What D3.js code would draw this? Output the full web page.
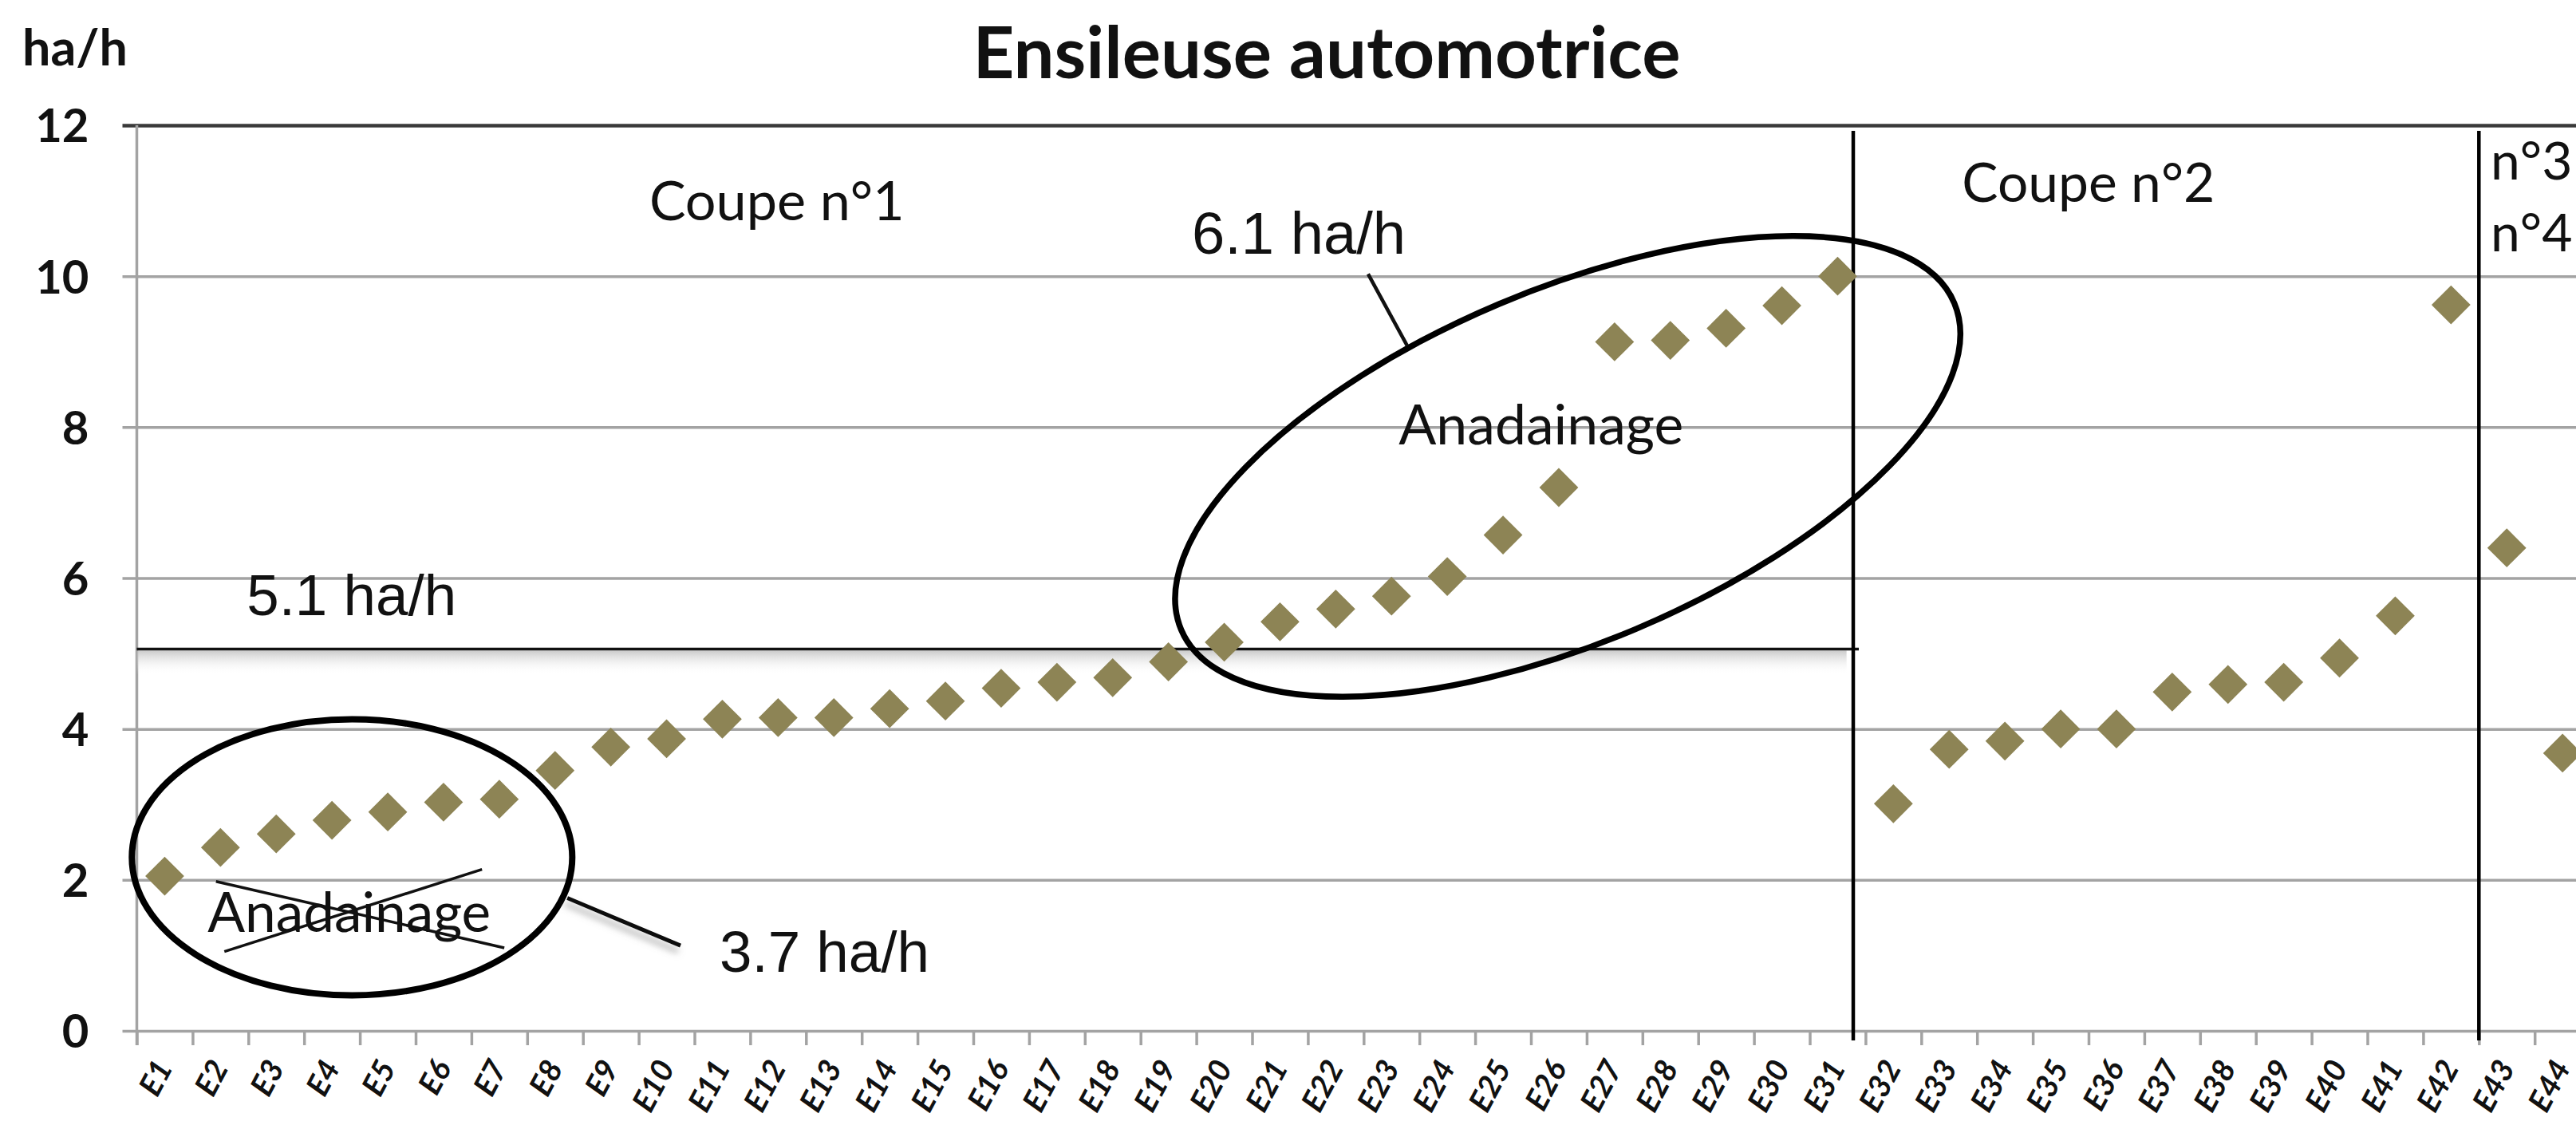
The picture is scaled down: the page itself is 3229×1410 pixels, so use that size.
<!DOCTYPE html>
<html>
<head>
<meta charset="utf-8">
<script src="https://cdn.jsdelivr.net/npm/d3@7"></script>
<style>
  html, body { margin: 0; padding: 0; background: #ffffff; overflow: hidden; }
  svg { display: block; }
</style>
</head>
<body>
<svg id="chart" width="3229" height="1410"></svg>
<script>
// ---------------- DATA ----------------
const categories = ["E1","E2","E3","E4","E5","E6","E7","E8","E9","E10",
  "E11","E12","E13","E14","E15","E16","E17","E18","E19","E20",
  "E21","E22","E23","E24","E25","E26","E27","E28","E29","E30",
  "E31","E32","E33","E34","E35","E36","E37","E38","E39","E40",
  "E41","E42","E43","E44"];
const values = [2.05, 2.43, 2.61, 2.79, 2.90, 3.03, 3.07, 3.45, 3.76, 3.87,
  4.13, 4.15, 4.15, 4.27, 4.37, 4.54, 4.62, 4.68, 4.89, 5.15,
  5.42, 5.59, 5.76, 6.02, 6.57, 7.20, 9.13, 9.15, 9.31, 9.61,
  10.0, 3.01, 3.73, 3.84, 4.00, 4.00, 4.49, 4.59, 4.62, 4.94,
  5.50, 9.62, 6.40, 3.68];
const yTicks = [0, 2, 4, 6, 8, 10, 12];
const chartTitle = "Ensileuse automotrice";
const yAxisTitle = "ha/h";
const sectionLabels = ["Coupe n°1", "Coupe n°2", "n°3", "n°4"];
const annotationTexts = ["5.1 ha/h", "6.1 ha/h", "3.7 ha/h", "Anadainage"];
const averageLevel = 5.06;

// ---------------- LAYOUT ----------------
const W = 3229, H = 1410;
const left = 171.5, band = 69.9;
const yBottom = 1292, yTop = 157;
const markerColor = "#8d8455";
const gridColor = "#a3a3a3";
const sansCal = "Lato, 'Open Sans', sans-serif";
const sansArial = "'Liberation Sans', Arial, sans-serif";

const svg = d3.select("#chart");
svg.append("rect").attr("width", W).attr("height", H).attr("fill", "#fff");

const defs = svg.append("defs");
const grad = defs.append("linearGradient").attr("id", "avgShadow")
  .attr("x1", 0).attr("y1", 0).attr("x2", 0).attr("y2", 1);
grad.append("stop").attr("offset", "0%").attr("stop-color", "#b9b9b9").attr("stop-opacity", 0.75);
grad.append("stop").attr("offset", "100%").attr("stop-color", "#ffffff").attr("stop-opacity", 0);
const shadow = defs.append("filter").attr("id", "dropShadow")
  .attr("x", "-20%").attr("y", "-20%").attr("width", "160%").attr("height", "180%");
shadow.append("feDropShadow").attr("dx", -3).attr("dy", 7).attr("stdDeviation", 4)
  .attr("flood-color", "#777").attr("flood-opacity", 0.6);

const x = d3.scaleBand().domain(categories)
  .range([left, left + band * categories.length]).padding(0);
const xb = d3.scaleLinear().domain([0, categories.length])
  .range([left, left + band * categories.length]);
const y = d3.scaleLinear().domain([0, 12]).range([yBottom, yTop]);

function fit(sel, target) {
  const w = sel.node().getComputedTextLength();
  const fs = parseFloat(sel.attr("font-size"));
  if (w > 0) sel.attr("font-size", (fs * target / w).toFixed(2));
  return sel;
}

// ---------------- GRID + Y AXIS ----------------
const gY = svg.append("g").attr("transform", `translate(${left - 18},0)`)
  .call(d3.axisLeft(y).tickValues(yTicks).tickSize(-(W - left + 18)).tickPadding(42)
    .tickFormat(d3.format("d")));
gY.select(".domain").remove();
gY.selectAll(".tick line")
  .attr("stroke", d => d === 12 ? "#3a3a3a" : gridColor)
  .attr("stroke-width", d => d === 12 ? 4.5 : 3.5);
gY.selectAll(".tick text")
  .attr("font-family", sansCal).attr("font-weight", "bold")
  .attr("font-size", 58).attr("fill", "#111").attr("dy", "0.36em");

// left axis line
svg.append("line")
  .attr("x1", left).attr("x2", left)
  .attr("y1", y(12)).attr("y2", yBottom + 18)
  .attr("stroke", gridColor).attr("stroke-width", 3.5);

// X ticks at category boundaries
const gXt = svg.append("g").attr("transform", `translate(0,${yBottom})`)
  .call(d3.axisBottom(xb).tickValues(d3.range(0, categories.length + 1)).tickSize(18).tickFormat(""));
gXt.select(".domain").remove();
gXt.selectAll(".tick line").attr("stroke", gridColor).attr("stroke-width", 3.5);

// X labels
const gXl = svg.append("g").attr("transform", `translate(0,${yBottom})`)
  .call(d3.axisBottom(x).tickSize(0));
gXl.select(".domain").remove();
gXl.selectAll(".tick text")
  .attr("x", 0).attr("y", 0).attr("dy", null)
  .attr("text-anchor", "end")
  .attr("transform", "translate(11,46) rotate(-62)")
  .attr("font-family", sansCal).attr("font-weight", "bold").attr("font-style", "italic")
  .attr("font-size", 39).attr("fill", "#111");

// ---------------- ANNOTATIONS (under points) ----------------
svg.append("rect")
  .attr("x", xb(0)).attr("y", y(averageLevel) + 2)
  .attr("width", xb(30.66) - xb(0)).attr("height", 30)
  .attr("fill", "url(#avgShadow)");
svg.append("line")
  .attr("x1", xb(0)).attr("x2", xb(30.88))
  .attr("y1", y(averageLevel)).attr("y2", y(averageLevel))
  .attr("stroke", "#111").attr("stroke-width", 3.5);

// section dividers
[30.78, 42.0].forEach(b => {
  svg.append("line")
    .attr("x1", xb(b)).attr("x2", xb(b))
    .attr("y1", y(12) + 7).attr("y2", yBottom + 12)
    .attr("stroke", "#000").attr("stroke-width", 4.5);
});

// ---------------- POINTS ----------------
svg.append("g").selectAll("path")
  .data(values)
  .join("path")
  .attr("d", d3.symbol(d3.symbolSquare, 1190))
  .attr("transform", (d, i) =>
    `translate(${x(categories[i]) + x.bandwidth() / 2},${y(d)}) rotate(45)`)
  .attr("fill", markerColor);

// ---------------- ELLIPSES & LINES ----------------
{
  const cx = xb(25.66), cy = y(7.48);
  svg.append("ellipse")
    .attr("cx", cx).attr("cy", cy).attr("rx", 526).attr("ry", 221)
    .attr("transform", `rotate(-22.9,${cx},${cy})`)
    .attr("fill", "none").attr("stroke", "#000").attr("stroke-width", 7.5);
}
{
  const cx = xb(3.86), cy = y(2.30);
  svg.append("ellipse")
    .attr("cx", cx).attr("cy", cy).attr("rx", 276).attr("ry", 173)
    .attr("fill", "none").attr("stroke", "#000").attr("stroke-width", 8);
}
[[1.42, 1.98, 6.59, 1.10], [1.57, 1.05, 6.19, 2.14]].forEach(s => {
  svg.append("line")
    .attr("x1", xb(s[0])).attr("y1", y(s[1]))
    .attr("x2", xb(s[2])).attr("y2", y(s[3]))
    .attr("stroke", "#111").attr("stroke-width", 3.5);
});
svg.append("line")
  .attr("x1", xb(22.08)).attr("y1", y(10.03))
  .attr("x2", xb(22.78)).attr("y2", y(9.08))
  .attr("stroke", "#111").attr("stroke-width", 4.5);
svg.append("line")
  .attr("x1", xb(7.72)).attr("y1", y(1.76))
  .attr("x2", xb(9.75)).attr("y2", y(1.13))
  .attr("stroke", "#111").attr("stroke-width", 5)
  .attr("filter", "url(#dropShadow)");

// ---------------- TEXTS ----------------
const title = svg.append("text")
  .attr("x", 1663).attr("y", 98).attr("text-anchor", "middle")
  .attr("font-family", sansCal).attr("font-weight", "bold").attr("font-size", 88)
  .attr("fill", "#111").text(chartTitle);
fit(title, 887);

const yt = svg.append("text")
  .attr("x", 28).attr("y", 82)
  .attr("font-family", sansCal).attr("font-weight", "bold").attr("font-size", 57)
  .attr("fill", "#111").text(yAxisTitle);
fit(yt, 132);

function label(txt, b, v, family, size, target) {
  const t = svg.append("text")
    .attr("x", xb(b)).attr("y", y(v))
    .attr("font-family", family).attr("font-size", size)
    .attr("fill", "#111").text(txt);
  if (target) fit(t, target);
  return t;
}
label(sectionLabels[0], 9.19, 10.74, sansCal, 65, 320);
label(sectionLabels[1], 32.73, 10.98, sansCal, 65, 317);
label(sectionLabels[2], 42.21, 11.28, sansCal, 66, null);
label(sectionLabels[3], 42.21, 10.33, sansCal, 66, null);

label(annotationTexts[0], 1.97, 5.51, sansArial, 72, 263);
label(annotationTexts[1], 18.92, 10.30, sansArial, 72, 268);
label(annotationTexts[2], 10.45, 0.78, sansArial, 72, 263);
label(annotationTexts[3], 22.63, 7.77, sansCal, 68, 357);
label(annotationTexts[3], 1.27, 1.31, sansCal, 68, 355);
</script>
</body>
</html>
